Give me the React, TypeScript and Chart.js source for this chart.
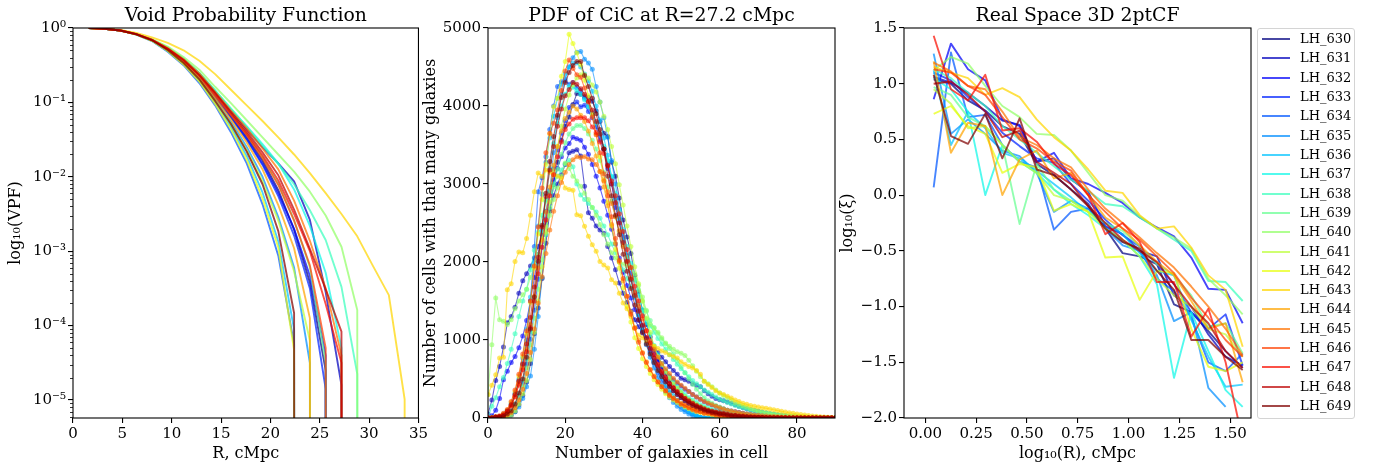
import React, { useEffect, useRef } from 'react';
import { Chart, registerables } from 'chart.js';
Chart.register(...registerables);

const FONT = "'DejaVu Serif', serif";

const seriesNames = ['LH_630','LH_631','LH_632','LH_633','LH_634','LH_635','LH_636','LH_637','LH_638','LH_639','LH_640','LH_641','LH_642','LH_643','LH_644','LH_645','LH_646','LH_647','LH_648','LH_649'];

// ---------- Panel 1: Void Probability Function (log10 values) ----------
const Z = -Infinity; // VPF = 0
const vpfR = [1.6,3.2,4.8,6.4,8,9.6,11.2,12.8,14.4,16,17.6,19.2,20.8,22.4,24,25.6,27.2,28.8,30.4,32,33.6,35.2];
const vpfLog10: number[][] = [
  [-0.001,-0.01,-0.034,-0.083,-0.162,-0.29,-0.45,-0.65,-0.91,-1.18,-1.46,-1.78,-2.18,-2.71,-3.42,-4.6,Z],
  [-0.001,-0.01,-0.033,-0.081,-0.158,-0.27,-0.42,-0.61,-0.86,-1.11,-1.36,-1.6,-1.82,-2.06,-2.58,-3.55,-4.8,Z],
  [-0.001,-0.01,-0.034,-0.083,-0.162,-0.29,-0.45,-0.66,-0.93,-1.2,-1.49,-1.82,-2.22,-2.7,-3.33,-4.4,Z],
  [-0.001,-0.01,-0.034,-0.083,-0.162,-0.29,-0.45,-0.66,-0.93,-1.2,-1.5,-1.84,-2.26,-2.79,-3.5,-4.85,Z],
  [-0.001,-0.01,-0.035,-0.088,-0.175,-0.32,-0.5,-0.74,-1.04,-1.4,-1.82,-2.37,-3.06,-4.25,Z],
  [-0.001,-0.01,-0.034,-0.084,-0.165,-0.3,-0.47,-0.69,-0.96,-1.26,-1.6,-2.0,-2.54,-3.22,-4.5,Z],
  [-0.001,-0.01,-0.035,-0.086,-0.17,-0.31,-0.48,-0.71,-1.0,-1.33,-1.72,-2.21,-2.87,-4.05,Z],
  [-0.001,-0.01,-0.033,-0.081,-0.158,-0.27,-0.42,-0.61,-0.84,-1.09,-1.32,-1.56,-1.82,-2.17,-2.66,-3.29,-4.3,Z],
  [-0.001,-0.01,-0.033,-0.08,-0.155,-0.26,-0.41,-0.6,-0.84,-1.08,-1.33,-1.58,-1.83,-2.1,-2.45,-2.85,-3.48,-4.65,Z],
  [-0.001,-0.01,-0.034,-0.082,-0.16,-0.28,-0.43,-0.64,-0.89,-1.15,-1.43,-1.73,-2.09,-2.58,-3.22,-4.5,Z],
  [-0.001,-0.009,-0.032,-0.078,-0.15,-0.25,-0.39,-0.56,-0.79,-1.01,-1.24,-1.47,-1.7,-1.93,-2.2,-2.52,-2.94,-3.79,Z],
  [-0.001,-0.01,-0.034,-0.084,-0.165,-0.3,-0.47,-0.69,-0.98,-1.29,-1.64,-2.06,-2.59,-3.27,-4.2,Z],
  [-0.001,-0.01,-0.035,-0.087,-0.172,-0.31,-0.49,-0.72,-1.02,-1.36,-1.77,-2.29,-2.95,-4.33,Z],
  [-0.001,-0.008,-0.027,-0.065,-0.125,-0.2,-0.3,-0.44,-0.62,-0.83,-1.04,-1.25,-1.47,-1.7,-1.95,-2.22,-2.5,-2.8,-3.2,-3.59,-4.99,Z],
  [-0.001,-0.01,-0.034,-0.083,-0.162,-0.29,-0.45,-0.67,-0.94,-1.23,-1.54,-1.9,-2.38,-2.96,-3.9,Z],
  [-0.001,-0.01,-0.033,-0.081,-0.158,-0.27,-0.42,-0.61,-0.86,-1.11,-1.35,-1.62,-1.9,-2.32,-2.86,-3.5,-4.4,Z],
  [-0.001,-0.01,-0.034,-0.082,-0.16,-0.28,-0.44,-0.64,-0.91,-1.17,-1.44,-1.75,-2.11,-2.59,-3.19,-4.3,Z],
  [-0.001,-0.01,-0.034,-0.082,-0.16,-0.28,-0.43,-0.64,-0.89,-1.15,-1.42,-1.71,-2.05,-2.5,-3.0,-3.71,-4.5,Z],
  [-0.001,-0.01,-0.034,-0.082,-0.16,-0.28,-0.43,-0.63,-0.87,-1.13,-1.39,-1.67,-1.98,-2.44,-2.97,-3.51,-4.08,Z],
  [-0.001,-0.01,-0.034,-0.084,-0.165,-0.3,-0.47,-0.69,-0.98,-1.29,-1.66,-2.1,-2.73,-3.83,Z],
];
const vpfXTicks = [0,5,10,15,20,25,30,35];
const vpfYTicks = [1e-5,1e-4,1e-3,1e-2,1e-1,1];
const vpfYTickLabels = ['10\u207B\u2075','10\u207B\u2074','10\u207B\u00B3','10\u207B\u00B2','10\u207B\u00B9','10\u2070'];

// ---------- Panel 2: PDF of counts in cells (index = number of galaxies) ----------
const cicCounts: number[][] = [
  [0,0,0,10,10,20,40,80,170,290, 460,700,1080,1410,1790,2240,2650,2990,3280,3560, 3740,3860,4020,4160,4150,4120,4110,4060,3940,3800, 3650,3610,3280,3100,2820,2540,2320,2110,1830,1620, 1380,1200,1040,870,750,640,560,480,420,360, 310,270,230,200,170,140,120,100,80,70, 60,50,40,30,30,20,20,20,10,10, 10,10,10,0,0,0,0,0,0,0, 0,0,0,0,0,0,0,0,0,0,0],
  [50,230,480,660,910,1220,1300,1420,1600,1760, 1850,1950,2050,2200,2350,2500,2680,2850,3000,3120, 3250,3400,3420,3440,3360,2970,2630,2560,2460,2410, 2370,2200,2050,1900,1730,1600,1480,1370,1260,1170, 1090,1030,960,900,840,780,720,660,610,560, 510,490,470,440,420,400,350,310,280,250, 235,220,205,190,170,150,135,120,107,95, 85,75,65,55,48,40,34,28,22,18, 14,10,8,6,4,3,2,1,1,0,0],
  [0,30,100,250,490,600,710,790,900,1050, 1250,1500,1800,2100,2400,2650,2880,3050,3200,3350, 3460,3520,3600,3580,3560,3470,3380,3250,3100,2950, 2780,2600,2420,2230,2050,1870,1700,1540,1390,1250, 1120,1000,900,810,730,660,600,540,490,450, 410,370,340,300,270,240,210,190,170,150, 130,115,100,90,80,70,60,50,45,40, 35,30,25,20,18,15,12,10,8,6, 5,4,3,2,2,1,1,0,0,0,0],
  [0,0,10,10,20,40,80,160,280,450, 690,1010,1380,1780,2190,2550,2920,3200,3440,3650, 3810,3980,4010,4050,3990,4010,3930,3850,3730,3560, 3450,3200,3000,2700,2510,2270,2030,1780,1580,1380, 1180,1010,850,730,630,550,470,410,350,300, 260,220,190,160,140,120,100,80,70,60, 50,40,30,30,20,20,20,10,10,10, 10,10,0,0,0,0,0,0,0,0, 0,0,0,0,0,0,0,0,0,0,0],
  [0,0,10,20,40,90,170,300,480,700, 1000,1500,2200,2900,3080,3350,3700,4000,4250,4310, 4320,4280,4300,4240,4200,4100,3990,3900,3780,3620, 3450,3260,3050,2810,2570,2320,2080,1850,1620,1390, 1180,1000,840,700,580,480,390,320,250,200, 150,110,80,50,30,10,0,0,0,0, 0,0,0,0,0,0,0,0,0,0, 0,0,0,0,0,0,0,0,0,0, 0,0,0,0,0,0,0,0,0,0,0],
  [0,0,0,0,10,20,40,80,140,250, 400,540,880,1300,1800,2350,2900,3400,3850,4150, 4350,4500,4620,4690,4700,4600,4550,4470,4250,4050, 3850,3600,3300,3000,2680,2380,2080,1800,1550,1320, 1120,940,780,640,520,420,330,260,200,150, 110,80,50,30,20,10,0,0,0,0, 0,0,0,0,0,0,0,0,0,0, 0,0,0,0,0,0,0,0,0,0, 0,0,0,0,0,0,0,0,0,0,0],
  [0,10,10,20,50,90,180,320,500,770, 1140,1550,2000,2460,2870,3280,3590,3870,4100,4280, 4410,4500,4550,4550,4500,4410,4320,4190,4000,3820, 3590,3370,3090,2820,2550,2280,2000,1770,1550,1320, 1140,960,820,710,610,520,420,350,290,230, 180,130,90,60,30,10,0,0,0,0, 0,0,0,0,0,0,0,0,0,0, 0,0,0,0,0,0,0,0,0,0, 0,0,0,0,0,0,0,0,0,0,0],
  [0,0,10,10,20,40,90,180,310,490, 760,1110,1510,1960,2400,2800,3200,3520,3780,4000, 4150,4250,4240,4200,4150,4080,3990,3900,3780,3640, 3480,3300,3100,2880,2650,2420,2200,1980,1770,1570, 1390,1220,1070,930,810,700,610,530,460,400, 350,300,260,230,200,170,150,130,110,95, 80,70,60,50,45,40,35,30,25,20, 18,15,12,10,8,6,5,4,3,2, 2,1,1,0,0,0,0,0,0,0,0],
  [0,150,260,400,520,700,880,1080,1300,1500, 1650,1900,2150,2380,2600,2780,2900,3000,3100,3180, 3260,3300,3220,3000,2860,2800,2750,2700,2640,2560, 2460,2350,2230,2120,2010,1900,1790,1680,1570,1460, 1360,1270,1180,1100,1020,950,880,810,750,690, 630,580,530,480,440,400,360,330,300,270, 240,220,200,180,160,145,130,115,100,90, 80,70,62,55,48,42,37,33,29,25, 22,19,16,14,12,10,8,6,5,4,3],
  [0,0,10,10,20,40,80,150,260,410, 640,940,1280,1650,2030,2360,2700,2960,3190,3380, 3530,3640,3710,3750,3750,3710,3640,3560,3450,3300, 3150,2960,2780,2580,2390,2220,2060,1920,1780,1640, 1500,1370,1250,1160,1080,1010,950,890,820,740, 660,580,500,430,370,310,260,220,190,160, 140,120,100,85,72,62,52,44,37,31, 26,21,17,13,10,8,6,5,4,3, 2,2,1,1,0,0,0,0,0,0,0],
  [300,940,1540,1260,1240,1200,1260,1400,1500,1580, 1650,1800,1950,2100,2300,2450,2600,2800,2950,3100, 3270,3200,3100,3040,2970,2880,2800,2700,2600,2480, 2350,2230,2120,2050,2000,1970,1950,1940,1850,1700, 1550,1380,1200,1150,1100,1030,960,920,880,850, 830,800,740,670,600,530,470,440,400,360, 320,290,260,230,200,180,160,140,120,105, 90,80,70,60,52,45,38,32,27,22, 18,15,12,10,8,6,5,4,3,2,1],
  [0,0,0,10,10,20,40,90,180,310, 480,750,1100,1500,1940,2380,2770,3170,3480,3740, 3960,4140,4270,4360,4400,4400,4360,4270,4180,4050, 3870,3700,3480,3260,2990,2730,2460,2200,1940,1720, 1500,1280,1100,920,790,680,590,510,440,380, 330,280,240,210,180,150,130,110,90,70, 60,50,40,40,30,30,20,20,10,10, 10,0,0,0,0,0,0,0,0,0, 0,0,0,0,0,0,0,0,0,0,0],
  [0,0,10,20,50,100,200,340,540,790, 1080,1480,1920,2360,2800,3250,3640,3990,4100,4380, 4570,4920,4800,4680,4530,4330,4130,3890,3640,3350, 3050,2760,2460,2160,1920,1670,1430,1230,1030,890, 760,660,570,490,430,370,310,270,230,200, 170,140,120,100,80,70,60,50,40,30, 30,20,20,10,10,10,0,0,0,0, 0,0,0,0,0,0,0,0,0,0, 0,0,0,0,0,0,0,0,0,0,0],
  [300,420,555,770,780,1645,1722,2008,2128,2120, 2300,2600,2900,3140,3100,3180,3150,3120,3100,3077, 2950,2930,2920,2607,2594,2457,2330,2222,2137,2008, 1960,1923,1773,1730,1600,1474,1400,1300,1150,1060, 1030,990,950,920,890,860,840,810,790,770, 720,690,660,640,610,560,470,430,390,350, 320,300,280,256,230,210,190,175,160,150, 140,132,125,115,105,95,85,76,68,60, 52,45,38,32,26,21,16,12,9,6,4],
  [0,0,10,20,40,80,160,280,440,640, 880,1200,1560,1920,2280,2640,2960,3240,3480,3680, 3840,3920,4000,3960,3880,3800,3680,3520,3360,3160, 2960,2720,2480,2240,2000,1760,1560,1360,1160,1000, 840,720,620,540,460,400,350,300,260,220, 190,160,140,120,100,80,70,60,50,40, 30,30,20,20,10,10,10,0,0,0, 0,0,0,0,0,0,0,0,0,0, 0,0,0,0,0,0,0,0,0,0,0],
  [0,0,10,10,20,40,70,130,230,370, 570,840,1140,1470,1810,2110,2410,2650,2850,3020, 3150,3250,3310,3350,3340,3350,3320,3310,3250,3160, 3040,2900,2750,2580,2400,2200,2000,1800,1610,1430, 1270,1120,990,880,780,700,630,570,510,460, 420,380,340,300,270,240,210,190,170,150, 130,115,100,90,80,70,60,50,45,40, 35,30,25,20,18,15,12,10,8,6, 5,4,3,2,2,1,1,0,0,0,0],
  [0,0,20,30,60,110,210,360,560,820, 1120,1500,1950,2450,2950,3400,3650,3780,3950,4200, 4450,4590,4480,4400,4370,4230,4050,3860,3630,3400, 3130,2850,2580,2300,2020,1790,1560,1330,1150,970, 830,710,620,530,460,400,350,290,250,220, 180,160,130,110,90,80,60,60,50,40, 30,30,20,20,10,10,10,10,0,0, 0,0,0,0,0,0,0,0,0,0, 0,0,0,0,0,0,0,0,0,0,0],
  [0,0,10,20,40,80,150,270,420,620, 850,1160,1500,1850,2190,2540,2850,3120,3350,3540, 3700,3770,3830,3850,3850,3850,3810,3730,3660,3540, 3390,3230,3040,2850,2620,2390,2160,1930,1690,1500, 1310,1120,960,810,690,600,520,440,390,340, 290,250,210,180,150,130,110,90,80,70, 50,50,40,30,30,20,20,10,10,10, 10,10,0,0,0,0,0,0,0,0, 0,0,0,0,0,0,0,0,0,0,0],
  [0,0,10,20,40,90,170,300,470,690, 950,1290,1680,2060,2450,2840,3180,3480,3740,3960, 4130,4210,4300,4280,4220,4150,4060,3950,3800,3640, 3450,3240,3000,2760,2500,2250,2010,1780,1570,1370, 1190,1030,890,770,670,580,500,440,380,330, 290,250,220,190,160,140,120,100,90,80, 70,60,50,40,35,30,25,20,15,12, 10,8,6,5,4,3,2,2,1,1, 0,0,0,0,0,0,0,0,0,0,0],
  [0,0,10,10,20,50,90,180,320,500, 780,1140,1550,2010,2470,2880,3290,3610,3880,4110, 4300,4430,4520,4570,4570,4390,4250,4100,3900,3700, 3450,3100,2850,2600,2350,2100,1880,1660,1450,1260, 1100,950,820,710,610,530,460,400,350,300, 260,220,190,160,140,120,100,85,70,60, 50,45,40,30,25,20,15,12,10,8, 6,5,4,3,2,2,1,1,0,0, 0,0,0,0,0,0,0,0,0,0,0],
];
const cicXTicks = [0,20,40,60,80];
const cicYTicks = [0,1000,2000,3000,4000,5000];

// ---------- Panel 3: Real space 3D 2pt correlation function ----------
const xiLogR = [0.041,0.126,0.210,0.295,0.379,0.464,0.548,0.633,0.717,0.802,0.886,0.971,1.055,1.140,1.224,1.309,1.393,1.478,1.562];
const xiLog10: (number | null)[][] = [
  [1.04,1.0,0.85,0.76,0.62,0.55,0.28,0.18,0.05,-0.08,-0.3,-0.52,-0.55,-0.62,-0.98,-1.05,-1.22,-1.4,-1.55],
  [1.06,1.01,0.92,0.8,0.67,0.63,0.3,0.33,0.14,0.03,-0.28,-0.35,-0.5,-0.55,-0.9,-1.0,-1.25,-1.45,-1.53],
  [0.86,1.36,1.13,1.03,0.68,0.62,0.3,0.38,0.15,0.1,0.02,-0.07,-0.2,-0.29,-0.37,-0.56,-0.84,-0.85,-1.15],
  [1.1,1.03,0.88,0.75,0.56,0.44,0.33,0.29,0.1,-0.05,-0.22,-0.36,-0.46,-0.62,-0.8,-1.05,-1.2,-1.07,-1.53],
  [0.07,1.28,0.7,0.72,0.45,0.3,0.25,-0.31,-0.15,-0.12,-0.28,-0.42,-0.5,-0.75,-0.86,-1.1,-1.5,-1.58,-1.42],
  [1.27,0.55,0.68,0.55,0.4,0.35,0.2,-0.15,-0.05,-0.12,-0.3,-0.45,-0.5,-0.72,-1.13,-1.05,-1.73,-1.9,null],
  [1.12,0.45,0.75,0.6,0.38,0.33,0.22,0.1,-0.02,-0.15,-0.25,-0.35,-0.52,-0.68,-0.72,-1.12,-1.45,-1.72,-1.7],
  [1.05,0.95,0.75,0.0,0.45,0.3,0.2,0.05,-0.08,-0.18,-0.3,-0.4,-0.55,-0.8,-1.64,-1.05,-1.4,-1.75,-1.9],
  [1.13,1.05,0.92,0.8,0.62,0.5,0.38,0.26,0.14,0.04,-0.08,-0.1,-0.2,-0.3,-0.4,-0.5,-0.77,-0.78,-0.95],
  [0.97,0.9,0.7,0.62,0.45,-0.26,0.28,0.05,-0.05,-0.15,-0.25,-0.32,-0.46,-0.62,-0.72,-0.9,-1.18,-1.15,-1.42],
  [1.12,1.24,1.18,0.98,0.8,0.7,0.55,0.54,0.4,0.2,0.0,-0.05,-0.19,-0.3,-0.38,-0.48,-0.75,-0.9,-1.07],
  [0.95,0.82,0.6,0.62,0.45,0.3,0.2,0.0,-0.05,-0.15,-0.3,-0.4,-0.55,-0.75,-0.9,-1.0,-1.2,-1.25,-1.45],
  [0.73,0.8,0.62,0.55,0.2,0.28,0.25,-0.14,-0.08,-0.15,-0.56,-0.55,-0.94,-0.68,-0.7,-1.2,-1.54,-1.58,-1.5],
  [1.15,1.1,1.05,0.9,0.96,0.88,0.68,0.52,0.4,0.23,0.04,0.02,-0.18,-0.3,-0.28,-0.47,-0.72,-0.85,-1.36],
  [1.2,0.38,0.65,0.62,0.0,0.32,0.4,0.15,0.2,0.0,-0.2,-0.3,-0.45,-0.6,-0.72,-0.95,-1.2,-1.15,-1.68],
  [1.19,1.11,0.98,0.95,0.75,0.52,0.45,0.33,0.25,0.05,-0.12,-0.25,-0.38,-0.52,-0.65,-0.82,-1.0,-1.2,-1.44],
  [1.13,1.1,0.98,0.9,0.7,0.5,0.42,0.3,0.22,0.0,-0.15,-0.3,-0.4,-0.55,-0.7,-0.92,-1.1,-1.3,-1.45],
  [1.43,0.95,0.85,1.08,0.58,0.6,0.48,0.28,0.18,0.0,-0.35,-0.25,-0.42,-0.78,-0.78,-1.27,-1.02,-1.5,-2.2],
  [1.0,1.02,0.9,0.75,0.52,0.58,0.3,0.2,0.1,-0.1,-0.25,-0.4,-0.5,-0.6,-0.8,-1.0,-1.15,-1.4,-1.55],
  [1.08,0.53,0.46,0.73,0.33,0.69,0.23,0.18,0.05,-0.1,-0.3,-0.42,-0.48,-0.68,-0.85,-1.3,-1.3,-1.45,-1.57],
];
const xiXTicks = [0,0.25,0.5,0.75,1.0,1.25,1.5];
const xiXTickLabels = ['0.00','0.25','0.50','0.75','1.00','1.25','1.50'];
const xiYTicks = [-2,-1.5,-1,-0.5,0,0.5,1,1.5];
const xiYTickLabels = ['\u22122.0','\u22121.5','\u22121.0','\u22120.5','0.0','0.5','1.0','1.5'];

// ---------- styling helpers ----------
function jet(t: number): [number, number, number] {
  const f = (pts: number[][]) => {
    for (let k = 0; k < pts.length - 1; k++) {
      const [x0, y0] = pts[k], [x1, y1] = pts[k + 1];
      if (t >= x0 && t <= x1) return y0 + (y1 - y0) * (t - x0) / (x1 - x0);
    }
    return pts[pts.length - 1][1];
  };
  return [
    f([[0,0],[0.35,0],[0.66,1],[0.89,1],[1,0.5]]),
    f([[0,0],[0.125,0],[0.375,1],[0.64,1],[0.91,0],[1,0]]),
    f([[0,0.5],[0.11,1],[0.34,1],[0.65,0],[1,0]]),
  ];
}
function col(i: number, a: number) {
  const [r, g, b] = jet(i / 19);
  return `rgba(${Math.round(r * 255)},${Math.round(g * 255)},${Math.round(b * 255)},${a})`;
}

function framePlugin(title: string, minorLog: boolean) {
  return {
    id: 'frame',
    afterDraw(chart: any) {
      const { ctx, chartArea: a } = chart;
      ctx.save();
      ctx.strokeStyle = '#000';
      ctx.lineWidth = 1.1;
      ctx.strokeRect(a.left, a.top, a.right - a.left, a.bottom - a.top);
      if (minorLog) {
        const y = chart.scales.y;
        ctx.lineWidth = 0.8;
        ctx.beginPath();
        for (let e = -6; e <= 0; e++) {
          for (let m = 2; m <= 9; m++) {
            const v = m * Math.pow(10, e);
            if (v < y.min || v > y.max) continue;
            const py = Math.round(y.getPixelForValue(v)) + 0.5;
            ctx.moveTo(a.left - 3, py);
            ctx.lineTo(a.left, py);
          }
        }
        ctx.stroke();
      }
      ctx.font = `18.8px ${FONT}`;
      ctx.fillStyle = '#000';
      ctx.textAlign = 'center';
      ctx.textBaseline = 'alphabetic';
      ctx.fillText(title, (a.left + a.right) / 2, 21);
      ctx.restore();
    },
  };
}

function axis(opts: any) {
  const { type, min, max, ticks, labels, title, titlePad, fitSize, horizontal } = opts;
  return {
    type,
    min,
    max,
    afterBuildTicks: (s: any) => { s.ticks = ticks.map((v: number) => ({ value: v, major: true })); },
    afterFit: (s: any) => { if (horizontal) s.height = fitSize; else s.width = fitSize; },
    grid: { display: true, drawOnChartArea: false, drawTicks: true, tickLength: 5, color: '#000', tickColor: '#000', lineWidth: 1.1 },
    border: { display: false },
    ticks: {
      autoSkip: false, maxRotation: 0, minRotation: 0, padding: 2, color: '#000',
      font: { family: FONT, size: 15 },
      callback: (_v: any, i: number) => labels[i],
    },
    title: {
      display: true, text: title, color: '#000', font: { family: FONT, size: 16 },
      padding: horizontal ? { top: 0, bottom: titlePad } : { top: titlePad, bottom: 0 },
    },
  };
}

function baseOptions(padRight: number, x: any, y: any) {
  return {
    responsive: false,
    animation: false,
    devicePixelRatio: 1,
    layout: { padding: { top: 28, right: padRight, left: 0, bottom: 0 } },
    plugins: { legend: { display: false }, tooltip: { enabled: false }, title: { display: false } },
    scales: { x, y },
  };
}

export default function App() {
  const c1 = useRef<HTMLCanvasElement>(null);
  const c2 = useRef<HTMLCanvasElement>(null);
  const c3 = useRef<HTMLCanvasElement>(null);

  useEffect(() => {
    const charts: Chart[] = [];

    // Panel 1
    charts.push(new Chart(c1.current!, {
      type: 'line',
      data: {
        datasets: vpfLog10.map((arr, i) => ({
          label: seriesNames[i],
          // matplotlib clips VPF = 0 to a tiny positive value on log axes (near-vertical drop)
          data: arr.map((v, k) => ({ x: vpfR[k], y: v === Z ? 1e-300 : Math.pow(10, v) })),
          borderColor: col(i, 0.72),
          borderWidth: 1.9,
          pointRadius: 0,
          tension: 0,
          borderJoinStyle: 'round',
          order: 19 - i,
        })),
      },
      options: baseOptions(10,
        axis({ type: 'linear', min: 0, max: 35, ticks: vpfXTicks, labels: vpfXTicks.map(String), title: 'R, cMpc', titlePad: 4, fitSize: 49, horizontal: true }),
        axis({ type: 'logarithmic', min: 5.73e-6, max: 1, ticks: vpfYTicks, labels: vpfYTickLabels, title: 'log\u2081\u2080(VPF)', titlePad: 6.4, fitSize: 73, horizontal: false }),
      ) as any,
      plugins: [framePlugin('Void Probability Function', true)],
    }));

    // Panel 2
    charts.push(new Chart(c2.current!, {
      type: 'line',
      data: {
        datasets: cicCounts.map((arr, i) => ({
          label: seriesNames[i],
          data: arr.map((v, n) => ({ x: n, y: v })),
          borderColor: col(i, 0.6),
          backgroundColor: col(i, 0.6),
          pointBackgroundColor: col(i, 0.6),
          pointBorderWidth: 0,
          pointRadius: 2.5,
          borderWidth: 1.1,
          tension: 0,
          order: 19 - i,
        })),
      },
      options: baseOptions(10,
        axis({ type: 'linear', min: 0, max: 89.85, ticks: cicXTicks, labels: cicXTicks.map(String), title: 'Number of galaxies in cell', titlePad: 4, fitSize: 49, horizontal: true }),
        axis({ type: 'linear', min: 0, max: 5000, ticks: cicYTicks, labels: cicYTicks.map(String), title: 'Number of cells with that many galaxies', titlePad: 1.4, fitSize: 68, horizontal: false }),
      ) as any,
      plugins: [framePlugin('PDF of CiC at R=27.2 cMpc', false)],
    }));

    // Panel 3
    charts.push(new Chart(c3.current!, {
      type: 'line',
      data: {
        datasets: xiLog10.map((arr, i) => ({
          label: seriesNames[i],
          data: arr.map((v, k) => ({ x: xiLogR[k], y: v })),
          borderColor: col(i, 0.72),
          borderWidth: 1.9,
          pointRadius: 0,
          tension: 0,
          borderJoinStyle: 'round',
          spanGaps: false,
          order: 19 - i,
        })),
      },
      options: baseOptions(9,
        axis({ type: 'linear', min: -0.105, max: 1.603, ticks: xiXTicks, labels: xiXTickLabels, title: 'log\u2081\u2080(R), cMpc', titlePad: 4, fitSize: 49, horizontal: true }),
        axis({ type: 'linear', min: -2, max: 1.5, ticks: xiYTicks, labels: xiYTickLabels, title: 'log\u2081\u2080(\u03BE)', titlePad: 7.9, fitSize: 74, horizontal: false }),
      ) as any,
      plugins: [framePlugin('Real Space 3D 2ptCF', false)],
    }));

    return () => charts.forEach((c) => c.destroy());
  }, []);

  const cv = (left: number, width: number): React.CSSProperties => ({ position: 'absolute', left, top: 0, width, height: 467 });

  return (
    <div style={{ position: 'fixed', left: 0, top: 0, width: 1375, height: 467, background: '#fff', overflow: 'hidden' }}>
      <canvas ref={c1} width={430} height={467} style={cv(0, 430)} />
      <canvas ref={c2} width={425} height={467} style={cv(420, 425)} />
      <canvas ref={c3} width={430} height={467} style={cv(830, 430)} />
      <div style={{ position: 'absolute', left: 1257, top: 28, width: 98, height: 391, border: '1px solid #d4d4d4', borderRadius: 3, boxSizing: 'border-box', background: '#fff' }}>
        {seriesNames.map((n, i) => (
          <div key={n} style={{ position: 'absolute', left: 4, top: 10 + i * 19.32 - 10, height: 20, display: 'flex', alignItems: 'center' }}>
            <span style={{ display: 'inline-block', width: 28, height: 2, background: col(i, 0.72) }} />
            <span style={{ marginLeft: 10, font: `13px ${FONT}`, color: '#000', whiteSpace: 'nowrap', lineHeight: '20px' }}>{n}</span>
          </div>
        ))}
      </div>
    </div>
  );
}
